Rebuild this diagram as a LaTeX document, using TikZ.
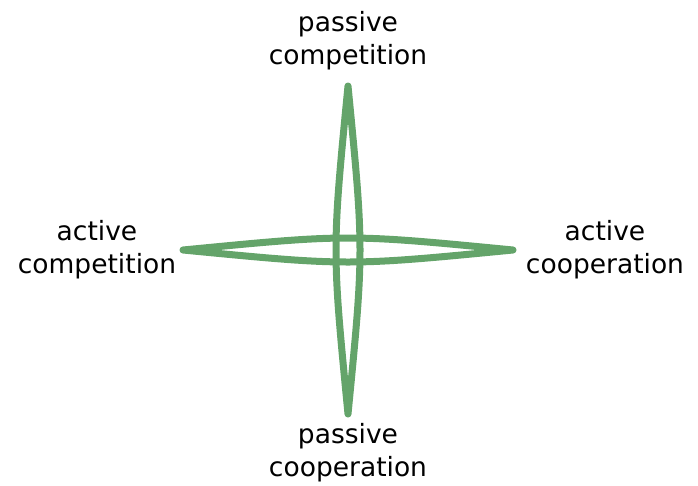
\documentclass[tikz,border=0pt]{standalone}
\usepackage{fontspec}
\setmainfont{DejaVu Sans}
\definecolor{lensgreen}{RGB}{100,164,106}
\begin{document}
\begin{tikzpicture}[x=1pt,y=-1pt,
  lens/.style={draw=lensgreen,line width=7pt,line join=round,line cap=round},
  lbl/.style={align=center,font=\fontsize{26.5}{33}\selectfont,inner sep=0pt}]
\useasboundingbox (0,0) rectangle (698,485);
\coordinate (T) at (348,86);
\coordinate (B) at (348,414);
\coordinate (L) at (183,250);
\coordinate (R) at (513,250);
\draw[lens] (T) .. controls (364,250) .. (B) .. controls (332,250) .. (T) -- cycle;
\draw[lens] (L) .. controls (348,234) .. (R) .. controls (348,266) .. (L) -- cycle;
\node[lbl] (pc) at (348,41) {passive\\competition};
\node[lbl] (ac) at (97,250) {active\\competition};
\node[lbl] (aco) at (605,250) {active\\cooperation};
\node[lbl] (pco) at (348,453) {passive\\cooperation};
\end{tikzpicture}
\end{document}
